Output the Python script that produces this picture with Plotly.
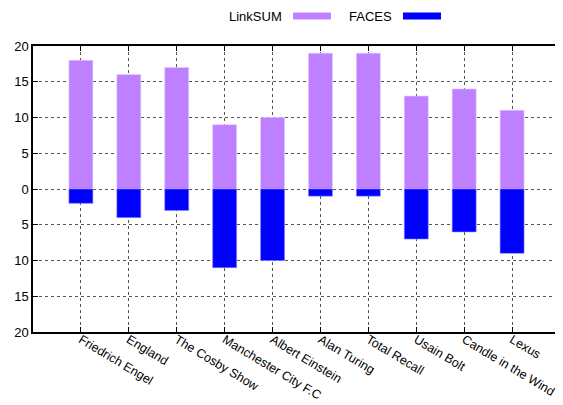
import plotly.graph_objects as go

categories = ["Friedrich Engel", "England", "The Cosby Show", "Manchester City F.C",
              "Albert Einstein", "Alan Turing", "Total Recall", "Usain Bolt",
              "Candle in the Wind", "Lexus"]
linksum = [18, 16, 17, 9, 10, 19, 19, 13, 14, 11]
faces = [2, 4, 3, 11, 10, 1, 1, 7, 6, 9]
y_ticks = [-20, -15, -10, -5, 0, 5, 10, 15, 20]
y_tick_labels = ["20", "15", "10", "5", "0", "5", "10", "15", "20"]

PURPLE = "#bf80ff"
BLUE = "#0000ff"
FONT = "Liberation Sans, Arial, sans-serif"
FS = 12.5

# page body has an 8px margin, so compensate (target plot area in page px: 33..560 x 46..332)
OFF = 8
W, H = 563, 405
L, T = 33 - OFF, 46 - OFF
R = W - (560 - OFF)
B = H - (332 - OFF)

fig = go.Figure()
fig.add_trace(go.Bar(x=categories, y=linksum, name="LinkSUM", width=0.5,
                     marker=dict(color=PURPLE, line=dict(width=0.6, color="#e0c8ff"))))
fig.add_trace(go.Bar(x=categories, y=[-v for v in faces], name="FACES", width=0.5,
                     marker=dict(color=BLUE, line=dict(width=0.6, color="#8080ff"))))

fig.update_layout(
    width=W, height=H,
    margin=dict(l=L, r=R, t=T, b=B, autoexpand=False),
    barmode="overlay",
    showlegend=False,
    plot_bgcolor="white", paper_bgcolor="white",
    font=dict(family=FONT, size=FS, color="black"),
)
fig.update_xaxes(
    type="category", range=[-1, 10], tickangle=31, automargin=False,
    ticklabelstandoff=-6,
    showgrid=True, gridcolor="#555", griddash="dot", gridwidth=1,
    showline=True, linecolor="black", linewidth=1.5, mirror="ticks",
    ticks="inside", ticklen=5, tickcolor="black",
    tickfont=dict(family=FONT, size=FS, color="black"),
)
fig.update_yaxes(
    range=[-20, 20], tickvals=y_ticks, ticktext=y_tick_labels, automargin=False,
    showgrid=True, gridcolor="#555", griddash="dot", gridwidth=1,
    zeroline=False,
    showline=True, linecolor="black", linewidth=1.5, mirror="ticks",
    ticks="inside", ticklen=5, tickcolor="black",
    tickfont=dict(family=FONT, size=13, color="black"),
)

# gnuplot-style key: label then sample swatch (pixel positions in the page)
pw, ph = W - L - R, H - T - B
def px(x):
    return (x - OFF - L) / pw
def py(y):
    return (H - B - (y - OFF)) / ph

key = [("LinkSUM", PURPLE, 284, 293, 331),
       ("FACES", BLUE, 394, 403, 441)]
for name, col, tx, x0, x1 in key:
    fig.add_annotation(xref="paper", yref="paper", x=px(tx), y=py(16), text=name,
                       showarrow=False, xanchor="right", yanchor="middle",
                       font=dict(family=FONT, size=13, color="black"))
    fig.add_shape(type="rect", xref="paper", yref="paper", x0=px(x0), x1=px(x1),
                  y0=py(19.5), y1=py(12.5), fillcolor=col, line=dict(width=0))

fig.write_html("out.html")
